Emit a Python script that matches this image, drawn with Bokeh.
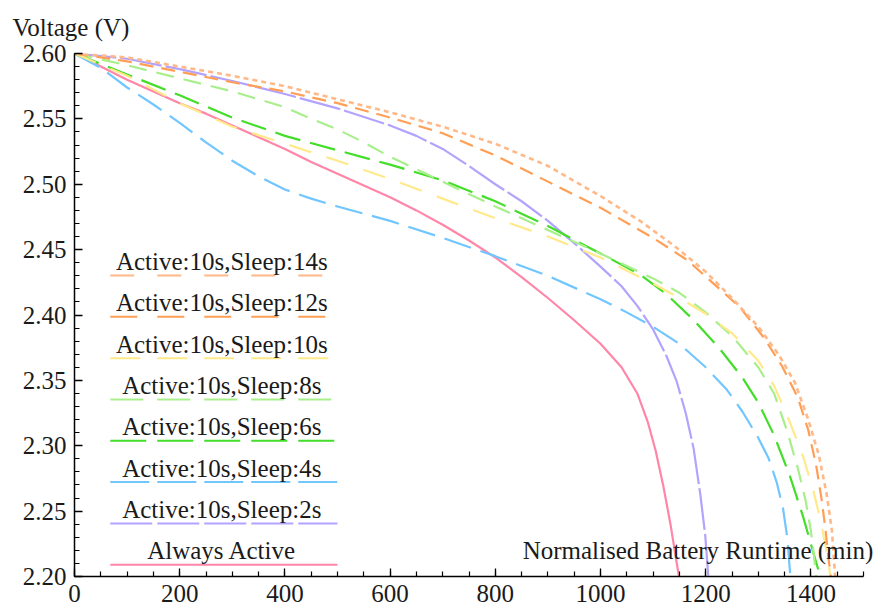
from bokeh.plotting import figure
from bokeh.models import FixedTicker, PrintfTickFormatter, Label, Range1d
from bokeh.embed import file_html
from bokeh.resources import INLINE

# Discharge curves: runtime (min) against cell voltage (V) for each duty cycle
series_names = [
    "Active:10s,Sleep:14s",
    "Active:10s,Sleep:12s",
    "Active:10s,Sleep:10s",
    "Active:10s,Sleep:8s",
    "Active:10s,Sleep:6s",
    "Active:10s,Sleep:4s",
    "Active:10s,Sleep:2s",
    "Always Active",
]

sleep14_x = [0, 100, 200, 300, 400, 500, 600, 700, 800, 900, 1000, 1075, 1140, 1200, 1250, 1300, 1340, 1370, 1395, 1415, 1430, 1440, 1446]
sleep14_v = [2.600, 2.597, 2.590, 2.583, 2.575, 2.565, 2.555, 2.544, 2.531, 2.514, 2.491, 2.472, 2.453, 2.433, 2.413, 2.391, 2.369, 2.348, 2.320, 2.293, 2.263, 2.235, 2.200]

sleep12_x = [0, 100, 200, 300, 400, 500, 600, 700, 800, 900, 1000, 1100, 1165, 1215, 1265, 1310, 1345, 1375, 1395, 1410, 1420, 1428, 1434, 1438]
sleep12_v = [2.600, 2.594, 2.586, 2.578, 2.571, 2.562, 2.551, 2.539, 2.522, 2.502, 2.482, 2.459, 2.442, 2.424, 2.406, 2.383, 2.361, 2.337, 2.312, 2.285, 2.260, 2.235, 2.212, 2.200]

sleep10_x = [0, 100, 200, 300, 400, 500, 600, 700, 800, 900, 1000, 1100, 1150, 1200, 1250, 1300, 1330, 1360, 1385, 1405, 1420, 1432, 1437]
sleep10_v = [2.600, 2.583, 2.562, 2.544, 2.531, 2.518, 2.504, 2.489, 2.474, 2.460, 2.444, 2.424, 2.413, 2.401, 2.386, 2.365, 2.346, 2.318, 2.292, 2.265, 2.240, 2.215, 2.200]

sleep8_x = [0, 100, 200, 300, 400, 450, 500, 550, 600, 700, 800, 900, 1000, 1100, 1150, 1200, 1250, 1300, 1330, 1355, 1375, 1390, 1400, 1406, 1410]
sleep8_v = [2.600, 2.591, 2.581, 2.571, 2.559, 2.550, 2.542, 2.532, 2.521, 2.502, 2.483, 2.465, 2.447, 2.428, 2.417, 2.402, 2.384, 2.360, 2.340, 2.311, 2.283, 2.258, 2.235, 2.215, 2.200]

sleep6_x = [0, 100, 200, 300, 400, 500, 600, 700, 800, 900, 1000, 1075, 1125, 1175, 1225, 1270, 1300, 1330, 1360, 1385, 1402, 1412, 1418]
sleep6_v = [2.600, 2.584, 2.568, 2.551, 2.537, 2.526, 2.515, 2.503, 2.487, 2.468, 2.447, 2.431, 2.416, 2.397, 2.375, 2.352, 2.333, 2.308, 2.277, 2.246, 2.222, 2.208, 2.200]

sleep4_x = [0, 50, 100, 150, 200, 250, 300, 350, 400, 450, 500, 600, 700, 800, 900, 1000, 1050, 1100, 1150, 1200, 1240, 1270, 1300, 1320, 1335, 1347, 1355, 1361]
sleep4_v = [2.600, 2.589, 2.574, 2.561, 2.547, 2.532, 2.518, 2.506, 2.496, 2.489, 2.483, 2.472, 2.459, 2.445, 2.430, 2.412, 2.402, 2.391, 2.378, 2.360, 2.343, 2.326, 2.306, 2.290, 2.272, 2.252, 2.230, 2.200]

sleep2_x = [0, 100, 200, 300, 400, 500, 600, 650, 700, 750, 800, 850, 900, 950, 1000, 1040, 1070, 1100, 1125, 1145, 1162, 1177, 1190, 1199, 1205]
sleep2_v = [2.600, 2.596, 2.588, 2.579, 2.569, 2.558, 2.545, 2.537, 2.527, 2.514, 2.500, 2.487, 2.472, 2.455, 2.437, 2.422, 2.407, 2.389, 2.369, 2.349, 2.325, 2.298, 2.262, 2.232, 2.200]

always_x = [0, 50, 100, 150, 200, 250, 300, 350, 400, 450, 500, 550, 600, 650, 700, 750, 800, 850, 900, 950, 1000, 1040, 1070, 1090, 1105, 1120, 1133, 1143, 1150]
always_v = [2.600, 2.590, 2.580, 2.571, 2.562, 2.554, 2.545, 2.536, 2.527, 2.517, 2.508, 2.499, 2.490, 2.480, 2.469, 2.457, 2.444, 2.429, 2.413, 2.396, 2.378, 2.360, 2.340, 2.318, 2.296, 2.268, 2.240, 2.215, 2.198]

x_ticks = [0, 200, 400, 600, 800, 1000, 1200, 1400]
x_minor = list(range(0, 1501, 50))
y_ticks = [2.20, 2.25, 2.30, 2.35, 2.40, 2.45, 2.50, 2.55, 2.60]
y_minor = [round(2.20 + 0.01 * i, 2) for i in range(41)]

colors = ["#ffb888", "#ff9f55", "#ffe98a", "#a8ef8c", "#44dd2a", "#72c6ff", "#b3a3ff", "#ff86a8"]
curve_dash = ["5 4", "14 8", "23 16", "18 10", "26 10", "28 10", "42 4", "solid"]
curve_width = [2.6, 2.2, 2.2, 2.2, 2.2, 2.2, 2.2, 2.2]
legend_dash = ["24 23", "27 20", "30 17", "33 14", "36 11", "39 8", "42 5", "solid"]

xs = [sleep14_x, sleep12_x, sleep10_x, sleep8_x, sleep6_x, sleep4_x, sleep2_x, always_x]
vs = [sleep14_v, sleep12_v, sleep10_v, sleep8_v, sleep6_v, sleep4_v, sleep2_v, always_v]

FONT = "Liberation Serif"
FONT_SIZE = "25px"
TEXT_COLOR = "#1a1a1a"

# The frame runs past 1500 min so the axis caption can extend to the right
# edge; the axis line itself stops at 1500.
X_MAX = 1500
x_end = X_MAX * 813 / 789

p = figure(
    frame_width=813, frame_height=523,
    min_border_left=74, min_border_right=0, min_border_top=53, min_border_bottom=38,
    x_range=Range1d(0, x_end), y_range=Range1d(2.20, 2.60),
    output_backend="svg", toolbar_location=None,
    title="Voltage (V)",
)
p.outline_line_color = None
p.xgrid.visible = False
p.ygrid.visible = False
p.background_fill_color = "white"
p.border_fill_color = "white"

p.title.align = "left"
p.title.vertical_align = "top"
p.title.offset = -62
p.title.standoff = 22
p.title.text_font = FONT
p.title.text_font_size = FONT_SIZE
p.title.text_font_style = "normal"
p.title.text_color = TEXT_COLOR

# Draw in reverse so the top of the legend list sits on top of the plot
for i in reversed(range(len(series_names))):
    p.line(xs[i], vs[i], line_color=colors[i], line_width=curve_width[i], line_dash=curve_dash[i])

for ax in (p.xaxis[0], p.yaxis[0]):
    ax.axis_line_color = "black"
    ax.axis_line_width = 1.5
    ax.major_tick_line_color = "black"
    ax.minor_tick_line_color = "black"
    ax.major_tick_line_width = 1.3
    ax.minor_tick_line_width = 1.2
    ax.major_tick_in = 8
    ax.major_tick_out = 0
    ax.minor_tick_in = 5
    ax.minor_tick_out = 0
    ax.major_label_text_font = FONT
    ax.major_label_text_font_size = FONT_SIZE
    ax.major_label_text_color = TEXT_COLOR
    ax.major_label_standoff = 8

p.xaxis.bounds = (0, X_MAX)
p.xaxis.ticker = FixedTicker(ticks=x_ticks, minor_ticks=x_minor)
p.yaxis.ticker = FixedTicker(ticks=y_ticks, minor_ticks=y_minor)
p.yaxis.formatter = PrintfTickFormatter(format="%.2f")

p.add_layout(Label(x=852, y=2.2199, text="Normalised Battery Runtime (min)", text_font=FONT,
                   text_font_size=FONT_SIZE, text_color=TEXT_COLOR,
                   text_baseline="middle", text_align="left"))

# Legend: name centred above a sample of each line style
legend_top = 2.4302
legend_step = 0.0316
for i, name in enumerate(series_names):
    yrow = legend_top - i * legend_step
    p.line([68, 500], [yrow, yrow], line_color=colors[i], line_width=2, line_dash=legend_dash[i])
    p.add_layout(Label(x=280, y=yrow + 0.0107, text=name, text_font=FONT,
                       text_font_size=FONT_SIZE, text_color=TEXT_COLOR,
                       text_baseline="middle", text_align="center"))

open("out.html", "w").write(file_html(p, INLINE))
